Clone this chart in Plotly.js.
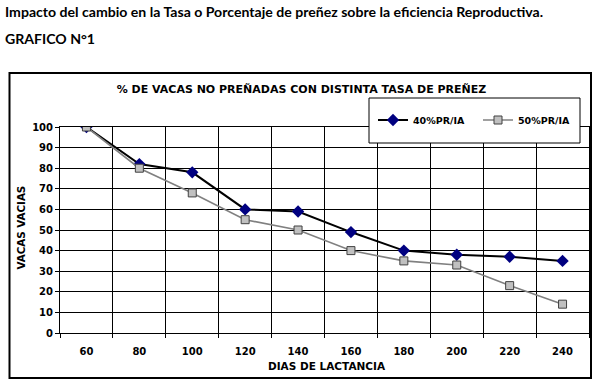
<!DOCTYPE html>
<html>
<head>
<meta charset="utf-8">
<script src="https://cdn.plot.ly/plotly-3.0.1.min.js"></script>
<style>html,body{margin:0;padding:0;background:#fff;}#chart{width:600px;height:386px;}</style>
</head>
<body>
<div id="chart"></div>
<script>
// ---- data ----
const days = [60, 80, 100, 120, 140, 160, 180, 200, 220, 240];
const dayLabels = ["60", "80", "100", "120", "140", "160", "180", "200", "220", "240"];
const pr40 = [100, 82, 78, 60, 59, 49, 40, 38, 37, 35];
const pr50 = [100, 80, 68, 55, 50, 40, 35, 33, 23, 14];
const seriesNames = ["40%PR/IA", "50%PR/IA"];
const chartTitle = "% DE VACAS NO PREÑADAS CON DISTINTA TASA DE PREÑEZ";
const xTitle = "DIAS DE LACTANCIA";
const yTitle = "VACAS VACIAS";
const headLine = "Impacto del cambio en la Tasa o Porcentaje de preñez sobre la eficiencia Reproductiva.";
const subHead = "GRAFICO N°1";

// ---- layout geometry (pixels) ----
const W = 600, H = 386;
const M = {l: 60, r: 11, t: 127, b: 53};
const PW = W - M.l - M.r, PH = H - M.t - M.b;
const px = x => (x - M.l) / PW;
const py = y => (H - M.b - y) / PH;

const dv = {family: "DejaVu Sans", weight: "bold", color: "#000"};

const traces = [
  {
    x: days, y: pr40, name: seriesNames[0], type: "scatter", mode: "lines+markers",
    line: {color: "#000000", width: 2},
    marker: {symbol: "diamond", size: 9.5, color: "#000080", line: {color: "#000080", width: 0}}
  },
  {
    x: days, y: pr50, name: seriesNames[1], type: "scatter", mode: "lines+markers",
    line: {color: "#808080", width: 1.6},
    marker: {symbol: "square", size: 8, color: "#c0c0c0", line: {color: "#404040", width: 1}}
  }
];

const layout = {
  width: W, height: H,
  margin: M,
  paper_bgcolor: "#ffffff",
  plot_bgcolor: "#ffffff",
  showlegend: true,
  title: {
    text: chartTitle,
    font: Object.assign({size: 11}, dv),
    x: 301.5 / W, xanchor: "center",
    y: 1 - 89 / H, yanchor: "middle"
  },
  xaxis: {
    range: [50, 250],
    tickmode: "array", tickvals: days, ticktext: dayLabels,
    ticks: "outside", ticklen: 9, tickcolor: "rgba(0,0,0,0)",
    tickfont: Object.assign({size: 10}, dv),
    showgrid: false, zeroline: false,
    showline: true, linecolor: "#000", linewidth: 1, mirror: true,
    minor: {tick0: 50, dtick: 20, showgrid: true, gridcolor: "#000", gridwidth: 1,
            ticks: "outside", ticklen: 4, tickcolor: "#000"},
    fixedrange: true
  },
  yaxis: {
    range: [0, 100], dtick: 10, tick0: 0,
    ticks: "outside", ticklen: 4, tickcolor: "#000",
    tickfont: Object.assign({size: 10}, dv),
    showgrid: true, gridcolor: "#000", gridwidth: 1,
    zeroline: false,
    showline: true, linecolor: "#000", linewidth: 1, mirror: true,
    fixedrange: true
  },
  legend: {
    orientation: "h",
    x: px(373), xanchor: "left",
    y: py(120), yanchor: "middle",
    entrywidth: 60, entrywidthmode: "pixels",
    bgcolor: "rgba(0,0,0,0)", borderwidth: 0,
    font: Object.assign({size: 9.5}, dv),
    itemclick: false, itemdoubleclick: false
  },
  shapes: [
    // chart frame
    {type: "rect", xref: "paper", yref: "paper", x0: px(9.5), x1: px(591), y0: py(73), y1: py(378),
     line: {color: "#000", width: 2}, fillcolor: "rgba(0,0,0,0)", layer: "below"},
    // legend box
    {type: "rect", xref: "paper", yref: "paper", x0: px(369), x1: px(580), y0: py(98), y1: py(143),
     line: {color: "#000", width: 1}, fillcolor: "#ffffff", layer: "above"}
  ],
  annotations: [
    {text: headLine, xref: "paper", yref: "paper", x: px(3), y: py(11), xanchor: "left", yanchor: "middle",
     showarrow: false, font: {family: "Lato", weight: "bold", size: 14.1, color: "#000"}},
    {text: subHead, xref: "paper", yref: "paper", x: px(3), y: py(38.7), xanchor: "left", yanchor: "middle",
     showarrow: false, font: {family: "Lato", weight: "bold", size: 14.1, color: "#000"}},
    {text: xTitle, xref: "paper", yref: "paper", x: px(326.5), y: py(366), xanchor: "center", yanchor: "middle",
     showarrow: false, font: Object.assign({size: 10.5}, dv)},
    {text: yTitle, xref: "paper", yref: "paper", x: px(20.5), y: py(228), xanchor: "center", yanchor: "middle",
     textangle: -90, showarrow: false, font: Object.assign({size: 10.3}, dv)}
  ]
};

Plotly.newPlot("chart", traces, layout, {staticPlot: true, displayModeBar: false});
</script>
</body>
</html>
